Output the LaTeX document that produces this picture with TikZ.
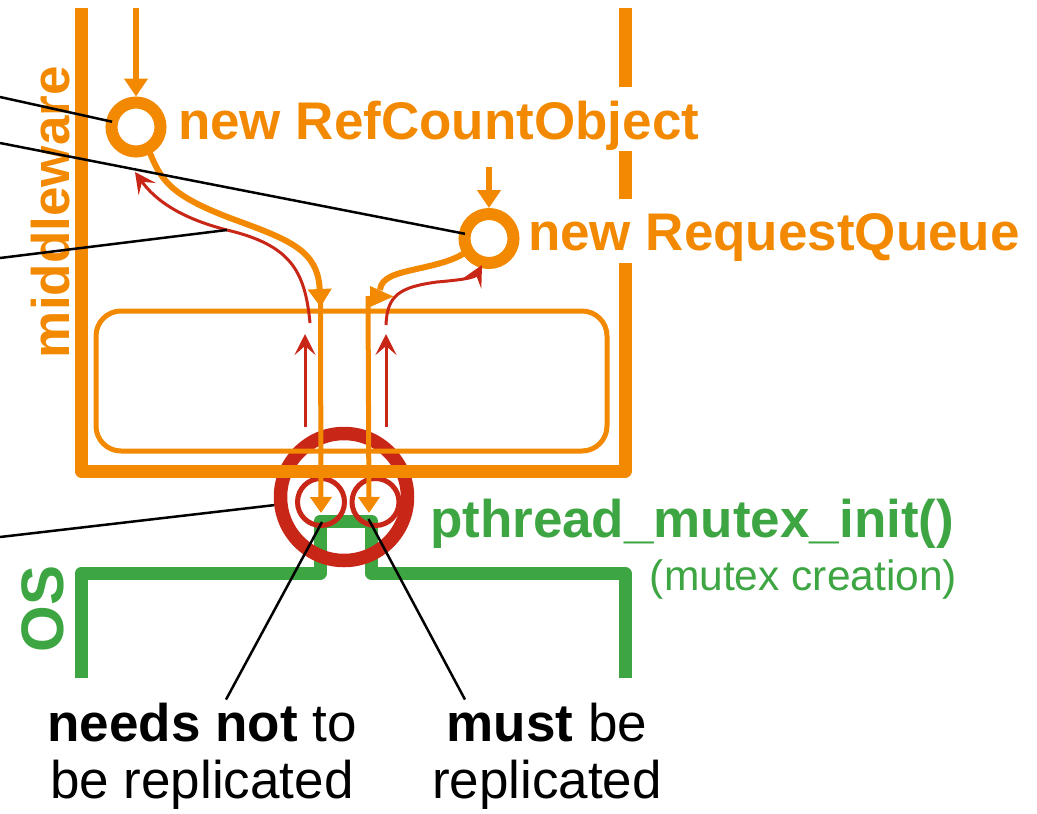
\documentclass[tikz,border=0pt]{standalone}
\usepackage{fontspec}
\setmainfont{Liberation Sans}
\usetikzlibrary{arrows.meta,calc}
\definecolor{mwOrange}{RGB}{242,137,0}
\definecolor{osGreen}{RGB}{61,165,66}
\definecolor{mxRed}{RGB}{200,38,22}
\newcommand\hugefs{\fontsize{53}{57}\selectfont}
\newcommand\osfs{\fontsize{60}{64}\selectfont}
\newcommand\smallfs{\fontsize{42.5}{46}\selectfont}

\begin{document}
\begin{tikzpicture}[x=1pt,y=-1pt,
  mwbar/.style={line width=13pt, line join=round},
  oring/.style={circle, draw=mwOrange, line width=12pt, minimum size=49pt, inner sep=0pt, outer sep=0pt},
  oflow/.style={draw=mwOrange, line width=6pt},
  otip/.style={-{Triangle[width=23pt,length=18pt]}},
  otipsmall/.style={-{Triangle[width=21pt,length=16pt]}},
  rback/.style={draw=mxRed, line width=3pt, -{Stealth[width=21pt,length=21pt,inset=9pt]}},
  blackline/.style={draw=black, line width=2.5pt},
  lbl/.style={inner sep=0pt, outer sep=0pt, font=\hugefs},
  mxring/.style={circle, draw=mxRed, inner sep=0pt},
]
\useasboundingbox (0,0) rectangle (1037,814);

% OS layer outline with the notch under the mutex
\draw[osGreen, mwbar] (81,678) -- (81,573.5) -- (320,573.5) -- (320,521)
  -- (371.5,521) -- (371.5,573.5) -- (625,573.5) -- (625,678);

% mutex markers
\node[mxring, line width=13.5pt, minimum size=127pt, outer sep=6.75pt] (bc) at (344,497) {};
\node[mxring, line width=5pt, minimum size=47pt, outer sep=0pt] (sl) at (321,502) {};
\node[mxring, line width=5pt, minimum size=47pt, outer sep=0pt] (sr) at (375.5,502) {};

% middleware layer outline (broken on the right where the labels pass)
\draw[mwOrange, mwbar] (81,8) -- (81,471) -- (625,471) -- (625,263);
\draw[mwOrange, mwbar] (625,151) -- (625,199);
\draw[mwOrange, mwbar] (625,8) -- (625,87);
\draw[mwOrange, line width=5pt, rounded corners=25pt] (96,311) rectangle (607,451);

% object creation points
\node[oring] (rc) at (136,127) {};
\node[oring] (rq) at (489,238.5) {};
\coordinate (inA) at (136,8);
\coordinate (inB) at (489,167);
\draw[oflow, line width=5.5pt, otip, shorten >=6pt] (inA) -- (rc);
\draw[oflow, line width=5.5pt, otip, shorten >=6pt] (inB) -- (rq);

% calls down into the OS
\draw[oflow, otip] (rc.-60) .. controls (160,180) and (170,195) .. (230,218)
  .. controls (290,240) and (318,250) .. (320.5,307);
\draw[oflow] (rq.-150) .. controls (448,266) and (410,268) .. (392,276)
  .. controls (384,280) and (381,283) .. (380,290);
\fill[mwOrange] (370,286) -- (393.5,296.5) -- (370,307) -- cycle;
\coordinate (dl) at (320.5,300);
\coordinate (dr) at (368,296);
\draw[oflow, line width=5pt, otipsmall] (dl) -- ($(sl.center)+(0,11)$);
\draw[oflow, line width=5pt, otipsmall] (dr) -- ($(sr.center)+(-6.5,11)$);

% returns back up
\coordinate (rA0) at (310,323);
\coordinate (rA1) at (135,172);
\coordinate (rB0) at (386,325);
\coordinate (rB1) at (482,265);
\draw[rback] (rA0) .. controls (305,270) and (290,245) .. (227,230) coordinate (lc)
  .. controls (180,218) and (155,200) .. (rA1);
\draw[rback] (rB0) .. controls (387,295) and (400,287) .. (437,282)
  .. controls (460,280) and (475,278) .. (rB1);
\coordinate (uL0) at (305,427);
\coordinate (uL1) at (305,334);
\coordinate (uR0) at (386,427);
\coordinate (uR1) at (386,334);
\draw[rback] (uL0) -- (uL1);
\draw[rback] (uR0) -- (uR1);

% labels
\node[lbl, text=mwOrange, font=\hugefs\bfseries, anchor=base west] (trc) at (178,139) {new RefCountObject};
\node[lbl, text=mwOrange, font=\hugefs\bfseries, anchor=base west] (trq) at (528,250.5) {new RequestQueue};
\node[lbl, text=mwOrange, font=\hugefs\bfseries, rotate=90, anchor=base west] (tmw) at (69,358) {middleware};
\node[lbl, text=osGreen, font=\osfs\bfseries, rotate=90, anchor=base west] (tos) at (63,652) {OS};
\node[lbl, text=osGreen, font=\hugefs\bfseries, anchor=base west] (tpm) at (430,537) {pthread\_mutex\_init()};
\node[lbl, text=osGreen, font=\smallfs, anchor=base east] (tmc) at (957,590) {(mutex creation)};
\node[lbl, align=center, anchor=base] (tnl) at (202,798) {\textbf{needs not} to\\be replicated};
\node[lbl, align=center, anchor=base] (tml) at (547,798) {\textbf{must} be\\replicated};

% pointer lines
\coordinate (e1) at (0,97);
\coordinate (e2) at (0,143);
\coordinate (e3) at (0,258);
\coordinate (e4) at (0,537);
\draw[blackline] (e1) -- (rc);
\draw[blackline] (e2) -- (rq);
\draw[blackline] (e3) -- (lc);
\draw[blackline] (e4) -- (bc);
\draw[blackline] ($(sl.center)+(1,20)$) -- ($(tnl.north)+(24,-3)$);
\draw[blackline] ($(sr.center)+(-7,17)$) -- ($(tml.north)+(-82,-3)$);
\end{tikzpicture}
\end{document}
